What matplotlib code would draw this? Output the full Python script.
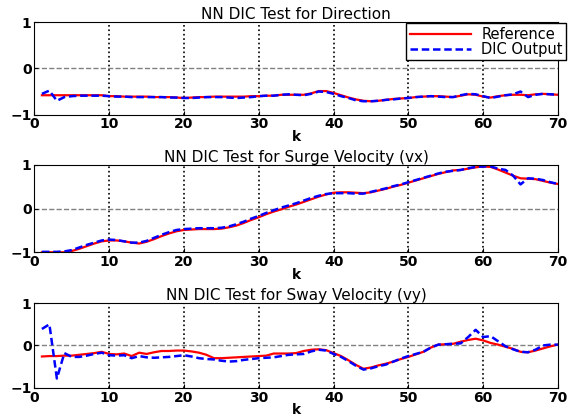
import numpy as np
import matplotlib
matplotlib.use('Agg')
import matplotlib.pyplot as plt

plt.rcParams['font.family'] = ['DejaVu Sans']

k = np.arange(1, 71)

# Direction
dir_ref = [-0.58, -0.58, -0.58, -0.58, -0.58, -0.58, -0.58, -0.58, -0.58, -0.60,
           -0.60, -0.61, -0.61, -0.61, -0.61, -0.62, -0.62, -0.62, -0.63, -0.64,
           -0.63, -0.62, -0.62, -0.61, -0.61, -0.61, -0.61, -0.61, -0.60, -0.60,
           -0.59, -0.59, -0.57, -0.57, -0.57, -0.57, -0.54, -0.49, -0.49, -0.53,
           -0.58, -0.63, -0.67, -0.70, -0.71, -0.70, -0.68, -0.66, -0.65, -0.64,
           -0.62, -0.61, -0.60, -0.60, -0.61, -0.62, -0.59, -0.56, -0.57, -0.61,
           -0.63, -0.60, -0.58, -0.57, -0.57, -0.58, -0.56, -0.55, -0.56, -0.57]
dir_dic = [-0.55, -0.48, -0.70, -0.62, -0.60, -0.59, -0.59, -0.59, -0.59, -0.60,
           -0.61, -0.61, -0.62, -0.62, -0.62, -0.62, -0.62, -0.63, -0.63, -0.64,
           -0.64, -0.63, -0.62, -0.62, -0.62, -0.63, -0.64, -0.63, -0.62, -0.60,
           -0.59, -0.59, -0.57, -0.56, -0.57, -0.58, -0.55, -0.50, -0.51, -0.55,
           -0.60, -0.64, -0.69, -0.71, -0.71, -0.70, -0.68, -0.67, -0.65, -0.64,
           -0.62, -0.61, -0.60, -0.61, -0.62, -0.62, -0.58, -0.55, -0.56, -0.60,
           -0.64, -0.61, -0.58, -0.56, -0.50, -0.62, -0.57, -0.55, -0.56, -0.57]

# Surge velocity (vx)
vx_ref = [-1.00, -1.00, -1.00, -1.00, -0.97, -0.92, -0.86, -0.80, -0.75, -0.73,
          -0.73, -0.75, -0.78, -0.80, -0.76, -0.70, -0.63, -0.57, -0.52, -0.49,
          -0.48, -0.47, -0.47, -0.47, -0.46, -0.43, -0.39, -0.33, -0.26, -0.20,
          -0.13, -0.07, -0.02, 0.04, 0.09, 0.15, 0.21, 0.27, 0.32, 0.36,
          0.37, 0.37, 0.36, 0.35, 0.37, 0.41, 0.45, 0.50, 0.54, 0.59,
          0.64, 0.69, 0.74, 0.79, 0.83, 0.87, 0.88, 0.91, 0.94, 0.96,
          0.95, 0.89, 0.82, 0.75, 0.69, 0.68, 0.67, 0.63, 0.59, 0.56]
vx_dic = [-0.99, -0.99, -0.99, -0.98, -0.95, -0.89, -0.83, -0.78, -0.73, -0.71,
          -0.72, -0.75, -0.78, -0.78, -0.74, -0.67, -0.60, -0.54, -0.49, -0.47,
          -0.46, -0.45, -0.45, -0.45, -0.44, -0.41, -0.36, -0.30, -0.23, -0.17,
          -0.10, -0.04, 0.02, 0.07, 0.12, 0.18, 0.24, 0.29, 0.33, 0.35,
          0.35, 0.35, 0.34, 0.34, 0.38, 0.42, 0.46, 0.51, 0.55, 0.60,
          0.65, 0.70, 0.75, 0.80, 0.84, 0.86, 0.88, 0.92, 0.95, 0.96,
          0.96, 0.91, 0.88, 0.75, 0.55, 0.69, 0.68, 0.65, 0.60, 0.56]

# Sway velocity (vy)
vy_ref = [-0.26, -0.25, -0.25, -0.24, -0.24, -0.22, -0.20, -0.18, -0.15, -0.20,
          -0.21, -0.19, -0.25, -0.17, -0.20, -0.16, -0.13, -0.13, -0.12, -0.12,
          -0.14, -0.17, -0.22, -0.30, -0.30, -0.29, -0.28, -0.27, -0.26, -0.25,
          -0.24, -0.19, -0.19, -0.19, -0.18, -0.13, -0.10, -0.09, -0.11, -0.18,
          -0.25, -0.35, -0.46, -0.55, -0.52, -0.47, -0.43, -0.38, -0.32, -0.27,
          -0.21, -0.15, -0.05, 0.02, 0.03, 0.04, 0.09, 0.13, 0.16, 0.12,
          0.06, 0.02, -0.03, -0.08, -0.15, -0.16, -0.12, -0.07, -0.02, 0.02]
vy_dic = [0.39, 0.50, -0.78, -0.18, -0.27, -0.27, -0.24, -0.20, -0.17, -0.23,
          -0.24, -0.23, -0.30, -0.25, -0.28, -0.29, -0.28, -0.27, -0.25, -0.23,
          -0.26, -0.30, -0.32, -0.33, -0.36, -0.38, -0.37, -0.34, -0.32, -0.30,
          -0.29, -0.28, -0.25, -0.22, -0.21, -0.20, -0.14, -0.10, -0.12, -0.20,
          -0.27, -0.37, -0.48, -0.57, -0.54, -0.49, -0.45, -0.38, -0.31, -0.25,
          -0.20, -0.15, -0.05, 0.02, 0.03, 0.04, 0.05, 0.20, 0.37, 0.20,
          0.22, 0.10, -0.02, -0.09, -0.15, -0.16, -0.10, 0.00, 0.02, 0.02]

titles = ['NN DIC Test for Direction',
          'NN DIC Test for Surge Velocity (vx)',
          'NN DIC Test for Sway Velocity (vy)']
refs = [dir_ref, vx_ref, vy_ref]
dics = [dir_dic, vx_dic, vy_dic]

fig = plt.figure(figsize=(5.74, 4.17), dpi=100)
boxes = [[0.060, 0.725, 0.912, 0.222],
         [0.060, 0.395, 0.912, 0.210],
         [0.060, 0.070, 0.912, 0.203]]

for i in range(3):
    ax = fig.add_axes(boxes[i])
    l1, = ax.plot(k, refs[i], color='red', linewidth=1.6, label='Reference')
    l2, = ax.plot(k, dics[i], color='blue', linestyle='--', linewidth=1.8,
                  dashes=(3, 1.5), label='DIC Output')
    ax.set_xlim(0, 70)
    ax.set_ylim(-1, 1)
    ax.set_xticks(range(0, 71, 10))
    ax.set_yticks([-1, 0, 1])
    for xv in range(10, 70, 10):
        ax.axvline(xv, color='black', linestyle=':', linewidth=1.2, zorder=0)
    ax.axhline(0, color='gray', linestyle='--', linewidth=1.0, zorder=0)
    ax.tick_params(direction='in', labelsize=10, length=3, pad=2)
    for lab in ax.get_xticklabels() + ax.get_yticklabels():
        lab.set_fontweight('bold')
    ax.set_title(titles[i], fontsize=11, pad=2)
    ax.set_xlabel('k', fontsize=10, fontweight='bold', labelpad=-1)
    if i == 0:
        ax.legend(handles=[l1, l2], loc='upper right', bbox_to_anchor=(1.016, 0.99),
                  fontsize=10.5, fancybox=False, edgecolor='black', framealpha=1,
                  handlelength=4.2, borderpad=0.25, labelspacing=0.0,
                  handletextpad=0.7, borderaxespad=0)

fig.savefig('out.png', dpi=100)
